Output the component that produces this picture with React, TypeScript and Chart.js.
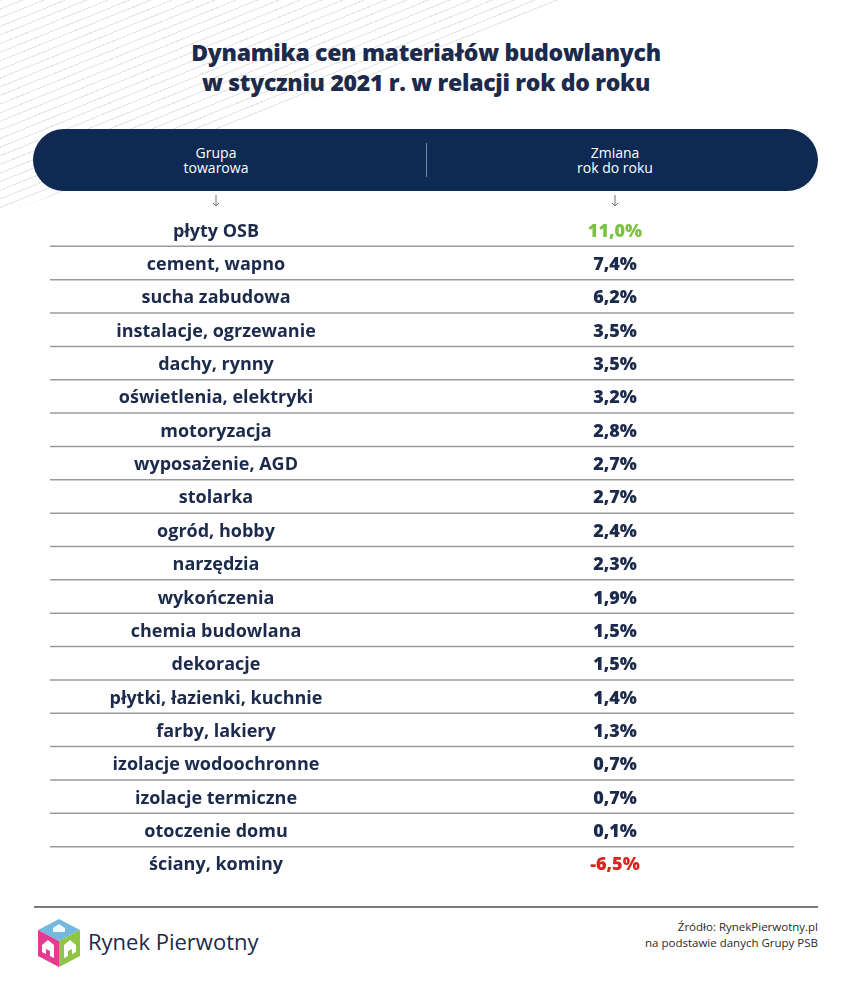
import React, { useEffect, useRef } from "react";
import { Chart, registerables } from "chart.js";

Chart.register(...registerables);

const categories: string[] = [
  "płyty OSB",
  "cement, wapno",
  "sucha zabudowa",
  "instalacje, ogrzewanie",
  "dachy, rynny",
  "oświetlenia, elektryki",
  "motoryzacja",
  "wyposażenie, AGD",
  "stolarka",
  "ogród, hobby",
  "narzędzia",
  "wykończenia",
  "chemia budowlana",
  "dekoracje",
  "płytki, łazienki, kuchnie",
  "farby, lakiery",
  "izolacje wodoochronne",
  "izolacje termiczne",
  "otoczenie domu",
  "ściany, kominy",
];

const changes: number[] = [
  11.0, 7.4, 6.2, 3.5, 3.5, 3.2, 2.8, 2.7, 2.7, 2.4, 2.3, 1.9, 1.5, 1.5, 1.4, 1.3, 0.7, 0.7, 0.1, -6.5,
];

const titleLines: string[] = [
  "Dynamika cen materiałów budowlanych",
  "w styczniu 2021 r. w relacji rok do roku",
];
const headerLeft: string[] = ["Grupa", "towarowa"];
const headerRight: string[] = ["Zmiana", "rok do roku"];
const sourceLines: string[] = ["Źródło: RynekPierwotny.pl", "na podstawie danych Grupy PSB"];

const NAVY = "#1c2a4b";
const FONT = "'Open Sans', 'Noto Sans', sans-serif";

const fmt = (v: number) => v.toFixed(1).replace(".", ",") + "%";

const tablePlugin = {
  id: "tableText",
  afterDatasetsDraw(chart: any) {
    const ctx = chart.ctx;
    const y = chart.scales.y;
    const w = chart.width;
    const labelX = w * (216 / 852);
    const valueX = w * (615 / 852);
    const data = chart.data.datasets[0].data as number[];
    const labels = chart.data.labels as string[];
    ctx.save();
    ctx.strokeStyle = "#9b9b9b";
    ctx.lineWidth = 1.5;
    for (let i = 0; i < labels.length - 1; i++) {
      const yb = (y.getPixelForValue(i) + y.getPixelForValue(i + 1)) / 2;
      ctx.beginPath();
      ctx.moveTo(w * (50 / 852), yb);
      ctx.lineTo(w * (794 / 852), yb);
      ctx.stroke();
    }
    ctx.textAlign = "center";
    ctx.textBaseline = "alphabetic";
    for (let i = 0; i < labels.length; i++) {
      const yc = y.getPixelForValue(i) + 7;
      ctx.font = `700 18px ${FONT}`;
      ctx.fillStyle = NAVY;
      ctx.fillText(labels[i], labelX, yc);
      const v = data[i];
      ctx.font = `800 18px ${FONT}`;
      ctx.fillStyle = i === 0 ? "#7cc242" : v < 0 ? "#d7261e" : NAVY;
      ctx.fillText(fmt(v), valueX, yc);
    }
    ctx.restore();
  },
};

function Table() {
  const ref = useRef<HTMLCanvasElement>(null);
  useEffect(() => {
    if (!ref.current) return;
    const chart = new Chart(ref.current, {
      type: "bar",
      data: {
        labels: categories,
        datasets: [
          {
            data: changes,
            backgroundColor: "rgba(0,0,0,0)",
            borderWidth: 0,
          },
        ],
      },
      options: {
        indexAxis: "y",
        responsive: false,
        animation: false,
        layout: { padding: 0 },
        plugins: { legend: { display: false }, tooltip: { enabled: false }, title: { display: false } },
        scales: {
          y: { display: false, offset: true },
          x: { display: false, min: -10, max: 15 },
        },
      },
      plugins: [tablePlugin],
    });
    return () => chart.destroy();
  }, []);
  return (
    <canvas
      ref={ref}
      width={852}
      height={667}
      style={{ position: "absolute", left: 0, top: 213, width: 852, height: 667 }}
    />
  );
}

function Logo() {
  return (
    <svg width={44} height={50} viewBox="0 0 44 50" style={{ position: "absolute", left: 37, top: 918 }}>
      <polygon points="22,1 43,12 22,23 1,12" fill="#74b8e0" />
      <polygon points="1,12 22,23 22,49 1,38" fill="#e23b8f" />
      <polygon points="22,23 43,12 43,38 22,49" fill="#8dc641" />
      <polygon points="16,10 22,6 28,10 28,14 16,14" fill="#ffffff" opacity={0.9} />
      <polygon points="5,27 11,22 17,27 17,40 13,38 13,33 9,31 9,36 5,34" fill="#ffffff" />
      <polygon points="27,27 33,22 39,27 39,34 35,36 35,31 31,33 31,38 27,40" fill="#ffffff" />
    </svg>
  );
}

function Arrow({ x }: { x: number }) {
  return (
    <svg width={10} height={14} viewBox="0 0 10 14" style={{ position: "absolute", left: x - 5, top: 194 }}>
      <line x1={5} y1={1} x2={5} y2={12} stroke="#6f6f6f" strokeWidth={1} />
      <polyline points="2,9 5,12 8,9" fill="none" stroke="#6f6f6f" strokeWidth={1} />
    </svg>
  );
}

export default function App() {
  return (
    <div
      style={{
        position: "absolute",
        left: 0,
        top: 0,
        width: 852,
        height: 984,
        background: "#ffffff",
        overflow: "hidden",
        fontFamily: FONT,
      }}
    >
      <div
        style={{
          position: "absolute",
          left: 0,
          top: 0,
          width: 600,
          height: 230,
          clipPath: "polygon(0 0, 575px 0, 0 215px)",
          background: "repeating-linear-gradient(158deg, #e4e4e4 0px, #e4e4e4 1px, rgba(255,255,255,0) 1px, rgba(255,255,255,0) 8px)",
        }}
      />
      <div
        style={{
          position: "absolute",
          left: 0,
          top: 37,
          width: 852,
          textAlign: "center",
          color: NAVY,
          fontWeight: 800,
          fontSize: 23,
          lineHeight: "30px",
          letterSpacing: -0.3,
        }}
      >
        {titleLines.map((t) => (
          <div key={t}>{t}</div>
        ))}
      </div>
      <div
        style={{
          position: "absolute",
          left: 33,
          top: 129,
          width: 785,
          height: 62,
          borderRadius: 31,
          background: "#0e2a53",
        }}
      >
        <div
          style={{
            position: "absolute",
            left: 393,
            top: 14,
            width: 1,
            height: 34,
            background: "rgba(255,255,255,0.45)",
          }}
        />
        <div
          style={{
            position: "absolute",
            left: 183 - 100,
            top: 16,
            width: 200,
            textAlign: "center",
            color: "#ffffff",
            fontSize: 14,
            lineHeight: "15px",
          }}
        >
          {headerLeft.map((t) => (
            <div key={t}>{t}</div>
          ))}
        </div>
        <div
          style={{
            position: "absolute",
            left: 582 - 100,
            top: 16,
            width: 200,
            textAlign: "center",
            color: "#ffffff",
            fontSize: 14,
            lineHeight: "15px",
          }}
        >
          {headerRight.map((t) => (
            <div key={t}>{t}</div>
          ))}
        </div>
      </div>
      <Arrow x={216} />
      <Arrow x={615} />
      <Table />
      <div style={{ position: "absolute", left: 34, top: 906, width: 784, height: 1.5, background: "#7a7a7a" }} />
      <Logo />
      <div
        style={{
          position: "absolute",
          left: 88,
          top: 926,
          color: NAVY,
          fontSize: 22,
          lineHeight: "30px",
          fontWeight: 400,
        }}
      >
        Rynek Pierwotny
      </div>
      <div
        style={{
          position: "absolute",
          right: 34,
          top: 919,
          textAlign: "right",
          color: "#2a2a2a",
          fontSize: 11.5,
          lineHeight: "16px",
        }}
      >
        {sourceLines.map((t) => (
          <div key={t}>{t}</div>
        ))}
      </div>
    </div>
  );
}
